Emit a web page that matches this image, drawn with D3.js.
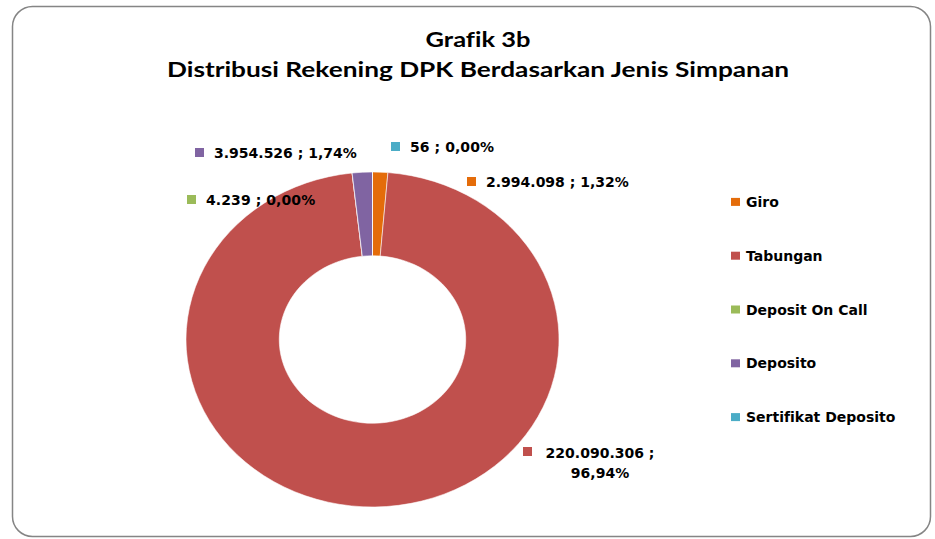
<!DOCTYPE html>
<html>
<head>
<meta charset="utf-8">
<script src="https://cdn.jsdelivr.net/npm/d3@7"></script>
<style>
  body { margin: 0; background: #fff; }
  text { fill: #000; font-variant-ligatures: none; }
</style>
</head>
<body>
<svg id="chart" width="935" height="539"></svg>
<script>
// ================= data =================
var categories = ["Giro", "Tabungan", "Deposit On Call", "Deposito", "Sertifikat Deposito"];
var values = [2994098, 220090306, 4239, 3954526, 56];
var valueLabels = ["2.994.098", "220.090.306", "4.239", "3.954.526", "56"];
var percentLabels = ["1,32%", "96,94%", "0,00%", "1,74%", "0,00%"];
var colors = ["#E46C0A", "#C0504D", "#9BBB59", "#8064A2", "#4BACC6"];
var titleLines = ["Grafik 3b", "Distribusi Rekening DPK Berdasarkan Jenis Simpanan"];

// label anchor (marker left/top) for each slice, layout only
var labelPos = [[467, 177], [523, 447], [187, 195], [195, 148], [391, 142]];

var svg = d3.select("#chart");

//==================== frame ====================
svg.append("rect")
  .attr("x", 12.5).attr("y", 6.5)
  .attr("width", 918).attr("height", 530)
  .attr("rx", 20).attr("ry", 20)
  .style("fill", "#fff")
  .style("stroke", "#858585")
  .style("stroke-width", 1.5);

//==================== title ====================
svg.selectAll("text.title")
  .data(titleLines)
  .enter()
  .append("text")
  .attr("class", "title")
  .attr("x", 478)
  .attr("y", function(d, i) { return 47 + i * 30; })
  .attr("text-anchor", "middle")
  .attr("textLength", function(d, i) { return i == 0 ? 105 : 622; })
  .attr("lengthAdjust", "spacingAndGlyphs")
  .style("font-family", "Lato, 'Open Sans', sans-serif")
  .style("font-weight", "bold")
  .style("font-size", "21px")
  .text(function(d) { return d; });

//==================== donut ====================
var cx = 372.5, cy = 339.5, rx = 186.5, ry = 167.5;

var pie = d3.pie().sort(null).value(function(d) { return d; });
var arc = d3.arc().innerRadius(rx * 0.5).outerRadius(rx);

var g = svg.append("g")
  .attr("transform", "translate(" + cx + "," + cy + ") scale(1," + (ry / rx) + ")");

g.selectAll("path")
  .data(pie(values))
  .enter()
  .append("path")
  .attr("d", arc)
  .style("fill", function(d, i) { return colors[i]; })
  .style("stroke", "#fff")
  .style("stroke-width", 0.6);

//==================== data labels ====================
var labelFont = "'DejaVu Sans', Verdana, sans-serif";
for (var i = 0; i < values.length; i++) {
  var p = labelPos[i];
  svg.append("rect")
    .attr("x", p[0]).attr("y", p[1])
    .attr("width", 9).attr("height", 9)
    .style("fill", colors[i]);
  if (i == 1) {
    // two lines, centered on text
    var t = svg.append("text")
      .attr("text-anchor", "middle")
      .style("font-family", labelFont)
      .style("font-weight", "bold")
      .style("font-size", "14px");
    t.append("tspan").attr("x", p[0] + 77).attr("y", p[1] + 11).text(valueLabels[i] + " ;");
    t.append("tspan").attr("x", p[0] + 77).attr("y", p[1] + 31).text(percentLabels[i]);
  } else {
    svg.append("text")
      .attr("x", p[0] + 19)
      .attr("y", p[1] + 10)
      .attr("textLength", (valueLabels[i] + " ; " + percentLabels[i]).length * 8.4)
      .attr("lengthAdjust", "spacing")
      .style("font-family", labelFont)
      .style("font-weight", "bold")
      .style("font-size", "14px")
      .text(valueLabels[i] + " ; " + percentLabels[i]);
  }
}

//==================== legend ====================
var ly = d3.scaleBand().domain(categories).range([175, 444]);

var leg = svg.selectAll("g.legend")
  .data(categories)
  .enter()
  .append("g")
  .attr("class", "legend")
  .attr("transform", function(d) { return "translate(731," + (ly(d) + ly.bandwidth() / 2) + ")"; });

leg.append("rect")
  .attr("x", 0).attr("y", -4)
  .attr("width", 9).attr("height", 8)
  .style("fill", function(d, i) { return colors[i]; });

leg.append("text")
  .attr("x", 15)
  .attr("y", 5)
  .style("font-family", labelFont)
  .style("font-weight", "bold")
  .style("font-size", "14px")
  .text(function(d) { return d; });
</script>
</body>
</html>
